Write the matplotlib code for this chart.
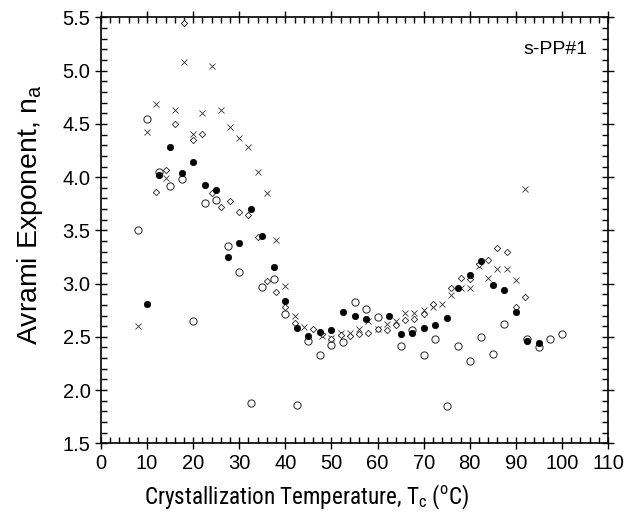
import matplotlib
matplotlib.use("Agg")
import matplotlib.pyplot as plt
from matplotlib import font_manager
from matplotlib.ticker import MultipleLocator, FormatStrFormatter

plt.rcParams['font.family'] = ['Liberation Sans', 'DejaVu Sans']

names = {f.name for f in font_manager.fontManager.ttflist}
candidates = ['Liberation Sans Narrow', 'Arial Narrow', 'Nimbus Sans Narrow',
              'Roboto Condensed', 'Archivo Narrow', 'Fira Sans Condensed',
              'PT Sans Narrow', 'Encode Sans Condensed', 'Open Sans Condensed',
              'Liberation Sans']
narrow_family = next(c for c in candidates if c in names)

# filled circles
tc_filled = [10, 12.5, 15, 17.5, 20, 22.5, 25, 27.5, 30, 32.5, 35, 37.5, 40, 42.5, 45,
             47.5, 50, 52.5, 55, 57.5, 62.5, 65, 67.5, 70, 72.5, 75, 77.5, 80, 82.5,
             85, 87.5, 90, 92.5, 95]
n_filled = [2.81, 4.02, 4.28, 4.04, 4.14, 3.93, 3.88, 3.25, 3.38, 3.70, 3.45, 3.16, 2.84,
            2.58, 2.51, 2.55, 2.56, 2.73, 2.70, 2.67, 2.70, 2.53, 2.54, 2.58, 2.61, 2.68,
            2.96, 3.08, 3.21, 2.99, 2.94, 2.73, 2.46, 2.44]

# open circles
tc_open = [8, 10, 12.5, 15, 17.5, 20, 22.5, 25, 27.5, 30, 32.5, 35, 37.5, 40, 42.5, 45,
           47.5, 50, 52.5, 55, 57.5, 60, 65, 67.5, 70, 72.5, 75, 77.5, 80, 82.5, 85,
           87.5, 92.5, 95, 97.5, 100]
n_open = [3.50, 4.55, 4.05, 3.92, 3.98, 2.65, 3.76, 3.79, 3.35, 3.11, 1.88, 2.97, 3.04,
          2.71, 1.86, 2.46, 2.33, 2.42, 2.45, 2.83, 2.76, 2.69, 2.41, 2.56, 2.33, 2.48,
          1.85, 2.41, 2.27, 2.50, 2.34, 2.62, 2.48, 2.40, 2.48, 2.53]

# open diamonds
tc_diamond = [12, 14, 16, 18, 20, 22, 24, 26, 28, 30, 32, 34, 36, 38, 40, 42, 46, 48,
              50, 52, 54, 56, 58, 60, 62, 64, 66, 68, 70, 72, 76, 78, 80, 82, 84, 86,
              88, 90, 92]
n_diamond = [3.86, 4.07, 4.50, 5.45, 4.35, 4.41, 3.85, 3.72, 3.78, 3.67, 3.64, 3.44,
             3.02, 2.92, 2.78, 2.63, 2.57, 2.53, 2.48, 2.52, 2.51, 2.53, 2.54, 2.57,
             2.56, 2.61, 2.66, 2.67, 2.71, 2.81, 2.96, 3.05, 3.04, 3.18, 3.22, 3.33,
             3.30, 2.78, 2.87]

# crosses
tc_cross = [8, 10, 12, 14, 16, 18, 20, 22, 24, 26, 28, 30, 32, 34, 36, 38, 40, 42, 44,
            48, 50, 52, 54, 56, 58, 60, 62, 64, 66, 68, 70, 72, 74, 76, 78, 80, 82, 84,
            86, 88, 90, 92]
n_cross = [2.60, 4.42, 4.69, 3.99, 4.63, 5.08, 4.41, 4.60, 5.04, 4.63, 4.47, 4.37, 4.28,
           4.05, 3.85, 3.41, 2.98, 2.70, 2.59, 2.51, 2.49, 2.54, 2.54, 2.57, 2.65, 2.57,
           2.62, 2.65, 2.72, 2.72, 2.75, 2.78, 2.81, 2.89, 2.96, 2.96, 3.17, 3.05, 3.14,
           3.14, 3.03, 3.89]

fig = plt.figure(figsize=(6.29, 5.23), dpi=100)
ax = fig.add_axes([101/629, 1-443.3/523, 507/629, (443.3-17.5)/523])

ax.plot(tc_cross, n_cross, linestyle='none', marker='x', ms=5, mew=0.6, color='#333333')
ax.plot(tc_diamond, n_diamond, linestyle='none', marker='D', ms=3.2, mew=0.6,
        mfc='white', mec='#222222')
ax.plot(tc_open, n_open, linestyle='none', marker='o', ms=5.2, mew=0.7,
        mfc='none', mec='#222222')
ax.plot(tc_filled, n_filled, linestyle='none', marker='o', ms=4.6, mew=0.5,
        mfc='black', mec='black')

ax.set_xlim(0, 110)
ax.set_ylim(1.5, 5.5)
ax.xaxis.set_major_locator(MultipleLocator(10))
ax.xaxis.set_minor_locator(MultipleLocator(2))
ax.yaxis.set_major_locator(MultipleLocator(0.5))
ax.yaxis.set_minor_locator(MultipleLocator(0.1))
ax.yaxis.set_major_formatter(FormatStrFormatter('%.1f'))

ax.tick_params(which='major', direction='inout', length=9, width=1.0,
               top=True, right=True, labelsize=14.5, pad=3)
ax.tick_params(which='minor', direction='in', length=4.5, width=1.0,
               top=True, right=True)
for s in ax.spines.values():
    s.set_linewidth(1.2)

ax.set_xlabel(r'Crystallization Temperature, T$_\mathdefault{c}$ ($^\mathdefault{o}$C)',
              fontsize=18, family=narrow_family)
ax.set_ylabel(r'Avrami Exponent, n$_\mathdefault{a}$', fontsize=18,
              family='Liberation Sans')
ax.xaxis.label.set_verticalalignment('center')
ax.yaxis.label.set_verticalalignment('center')
ax.xaxis.set_label_coords(0.406, (443.3 - 497) / 425.8)
ax.yaxis.set_label_coords((30 - 101) / 507, (443.3 - 214) / 425.8)

# size the axis titles to the reference's extent (x title ~325 px wide, y title ~262 px tall)
for _ in range(2):
    fig.canvas.draw()
    r = fig.canvas.get_renderer()
    bx = ax.xaxis.label.get_window_extent(r)
    by = ax.yaxis.label.get_window_extent(r)
    ax.xaxis.label.set_fontsize(ax.xaxis.label.get_fontsize() * 325 / bx.width)
    ax.yaxis.label.set_fontsize(ax.yaxis.label.get_fontsize() * 262 / by.height)

ax.text(0.9605, 0.926, 's-PP#1', transform=ax.transAxes, ha='right', va='center',
        fontsize=14)

fig.savefig('out.png', dpi=100)
